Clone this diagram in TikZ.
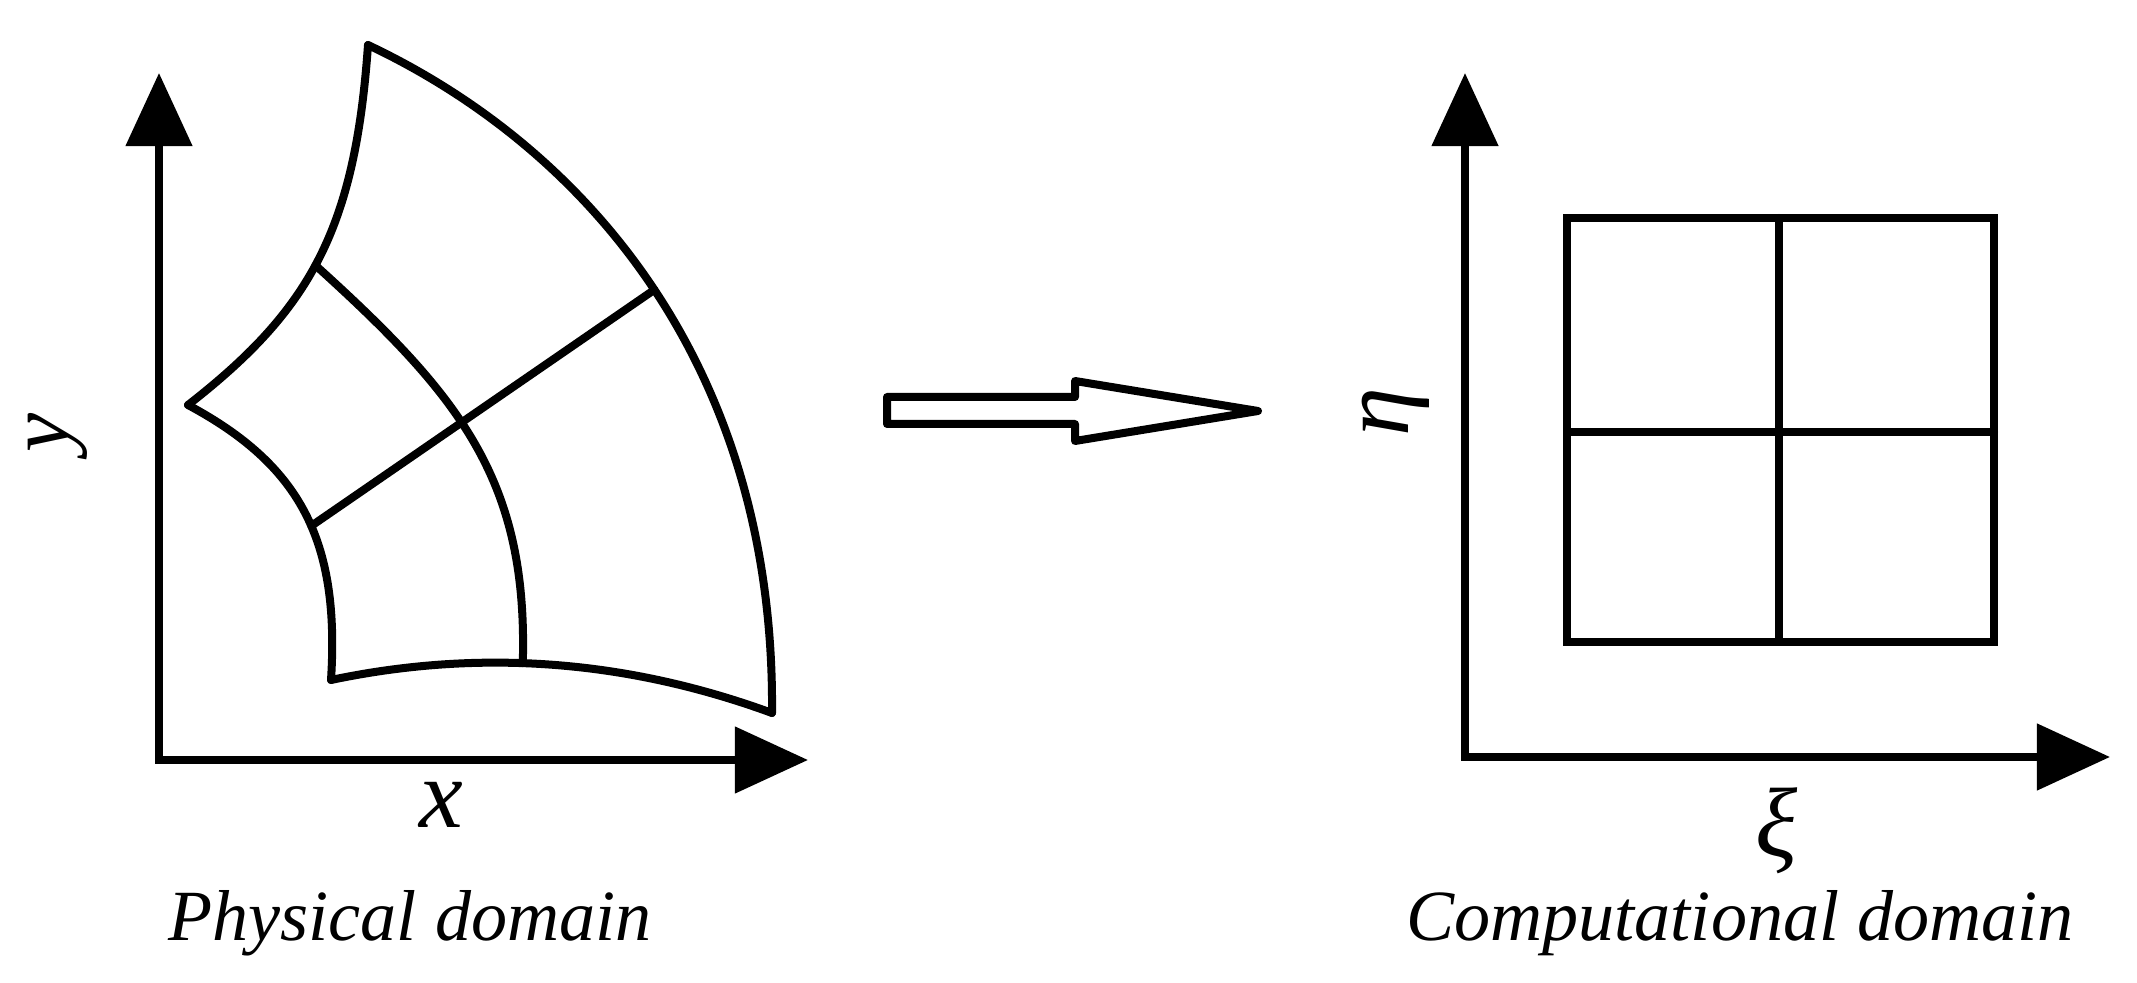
\documentclass[tikz,border=0pt]{standalone}
\usepackage{fontspec}
\setmainfont{Liberation Serif}
\usetikzlibrary{arrows.meta, positioning}

\begin{document}
\begin{tikzpicture}[x=0.01cm,y=-0.01cm, ax/.style={line width=0.08cm,line join=miter,{Triangle[length=0.73cm,width=0.65cm]}-{Triangle[length=0.73cm,width=0.65cm]}}, ln/.style={line width=0.08cm,line cap=round,line join=round}, lbl/.style={font=\fontsize{28}{30}\selectfont\itshape,inner sep=0pt}, captxt/.style={font=\fontsize{20.5}{24}\selectfont\itshape,inner sep=0pt,anchor=base}]
  \useasboundingbox (0,0) rectangle (2137,983);
  % physical domain
  \coordinate (o1) at (159,760);
  \coordinate (yt1) at (159,73);
  \coordinate (xt1) at (808,760);
  \draw[ax](yt1)--(o1)--(xt1);
  \coordinate (A) at (368,45);
  \coordinate (C) at (188,405);
  \coordinate (E) at (331,680);
  \coordinate (G) at (772,713);
  \draw[ln](A) .. controls (355,230) and (310,310) .. (C) coordinate[pos=0.52] (B);
  \draw[ln](C) .. controls (300,465) and (340,540) .. (E) coordinate[pos=0.55] (D);
  \draw[ln](E) .. controls (450,655) and (600,650) .. (G) coordinate[pos=0.48] (F);
  \draw[ln](A) .. controls (590,150) and (775,370) .. (G) coordinate[pos=0.5] (H);
  \draw[ln](B) .. controls (460,396) and (528,480) .. (F);
  \draw[ln](D)--(H);
  \node[lbl,font=\fontsize{25}{28}\selectfont\itshape,rotate=90] (ylab) at (58,433) {y};
  \node[lbl] (xlab) at (441,805) {x};
  \node[captxt] (phys) at (410,940) {Physical domain};
  % mapping arrow
  \draw[ln] (887,397)--(1075,397)--(1075,381)--(1258,411)--(1075,441)--(1075,424)--(887,424)--cycle;
  % computational domain
  \coordinate (o2) at (1465,757);
  \coordinate (yt2) at (1465,73);
  \coordinate (xt2) at (2110,757);
  \draw[ax](yt2)--(o2)--(xt2);
  \draw[ln,line join=miter] (1567,218) rectangle (1994,642);
  \draw[ln] (1779,218)--(1779,642);
  \draw[ln] (1567,432)--(1994,432);
  \node[lbl,rotate=90] (etalab) at (1396,412) {η};
  \node[lbl] (xilab) at (1777,831) {ξ};
  \node[captxt] (comp) at (1740,940) {Computational domain};
\end{tikzpicture}
\end{document}
